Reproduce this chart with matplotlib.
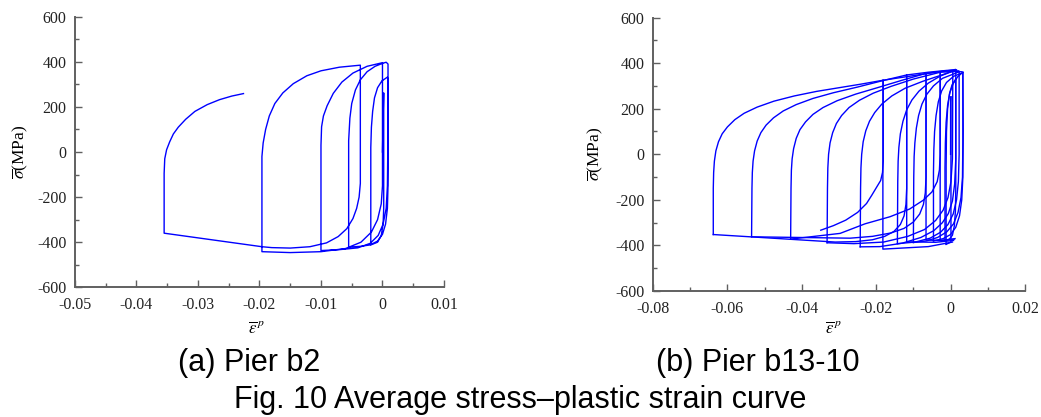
import matplotlib
matplotlib.use("Agg")
import matplotlib.pyplot as plt
from matplotlib.ticker import MultipleLocator

plt.rcParams['font.family'] = 'Liberation Serif'
plt.rcParams['mathtext.fontset'] = 'stix'
plt.rcParams['axes.unicode_minus'] = False

BLUE = '#0000ff'

# ---------------- (a) Pier b2 : one continuous history ----------------
b2_strain = [0.0000, 0.0001, 0.0002, 0.0002, 0.0001, -0.0002, -0.0008, -0.0019,
             -0.0019, -0.0019, -0.0018, -0.0016, -0.0013, -0.0008, -0.0001, 0.0008,
             0.0009, 0.0009, 0.0008, 0.0005, 0.0000, -0.0008, -0.0020, -0.0035, -0.0055,
             -0.0055, -0.0055, -0.0053, -0.0050, -0.0044, -0.0036, -0.0025, -0.0012, 0.0000, 0.0006, 0.0009,
             0.0009, 0.0008, 0.0006, 0.0001, -0.0007, -0.0020, -0.0040, -0.0070, -0.0100,
             -0.0100, -0.0099, -0.0096, -0.0090, -0.0080, -0.0066, -0.0048, -0.0025, 0.0000,
             0.0000, -0.0002, -0.0008, -0.0018, -0.0035, -0.0060, -0.0100, -0.0150, -0.0196,
             -0.0196, -0.0194, -0.0190, -0.0184, -0.0175, -0.0162, -0.0145, -0.0123, -0.0100, -0.0070, -0.0036,
             -0.0036, -0.0038, -0.0042, -0.0048, -0.0058, -0.0072, -0.0091, -0.0118, -0.0150, -0.0180, -0.0196,
             -0.0355, -0.0355, -0.0354, -0.0351, -0.0346, -0.0340, -0.0332, -0.0320, -0.0305, -0.0285, -0.0265,
             -0.0245, -0.0226]
b2_stress = [0, 150, 262, -250, -320, -370, -400, -412,
             -100, 20, 110, 180, 240, 285, 315, 332,
             320, -150, -250, -320, -365, -395, -412, -418, -422,
             -50, 50, 150, 215, 275, 320, 356, 380, 393, 398, 390,
             100, -150, -250, -320, -370, -405, -425, -433, -437,
             30, 112, 160, 205, 260, 310, 350, 380, 396,
             -150, -230, -300, -355, -400, -428, -442, -446, -442,
             -20, 40, 100, 160, 215, 262, 303, 338, 360, 376, 385,
             -139, -200, -250, -295, -340, -375, -403, -420, -426, -424, -420,
             -360, -95, -30, 10, 45, 80, 110, 145, 180, 210, 232,
             248, 259]

# ---------------- (b) Pier b13-10 ----------------
# tension branches: reload at the minimum strain, hardening to the right
b13_tension_x = [
    [0.0000, 0.0000, 0.0001],
    [-0.0012, -0.0012, -0.0011, -0.0008, -0.0003, 0.0004, 0.0014],
    [-0.0015, -0.0015, -0.0014, -0.0012, -0.0008, -0.0002, 0.0007, 0.0019, 0.0033],
    [-0.0046, -0.0046, -0.0045, -0.0043, -0.0039, -0.0033, -0.0024, -0.0011, 0.0008, 0.0033],
    [-0.0100, -0.0099, -0.0098, -0.0096, -0.0092, -0.0086, -0.0077, -0.0064, -0.0046, -0.0022, 0.0023],
    [-0.0143, -0.0142, -0.0141, -0.0139, -0.0135, -0.0128, -0.0118, -0.0104, -0.0085, -0.0060, -0.0028, 0.0014],
    [-0.0243, -0.0242, -0.0241, -0.0239, -0.0235, -0.0228, -0.0218, -0.0204, -0.0185, -0.0158, -0.0122,
     -0.0075, -0.0020, 0.0006],
    [-0.0332, -0.0331, -0.0330, -0.0328, -0.0324, -0.0317, -0.0307, -0.0293, -0.0273, -0.0245, -0.0208,
     -0.0160, -0.0100, -0.0028, 0.0010, 0.0030],
    [-0.0430, -0.0429, -0.0428, -0.0426, -0.0422, -0.0415, -0.0405, -0.0390, -0.0370, -0.0343, -0.0305,
     -0.0255, -0.0195, -0.0130, -0.0066, -0.0020, 0.0022],
    [-0.0535, -0.0534, -0.0533, -0.0531, -0.0527, -0.0520, -0.0510, -0.0496, -0.0476, -0.0450, -0.0415,
     -0.0370, -0.0315, -0.0250, -0.0185, -0.0118, -0.0060, -0.0010, 0.0016],
    [-0.0638, -0.0638, -0.0637, -0.0635, -0.0631, -0.0624, -0.0614, -0.0600, -0.0580, -0.0555, -0.0520,
     -0.0475, -0.0420, -0.0360, -0.0300, -0.0240, -0.0181, -0.0120, -0.0060, -0.0010, 0.0013],
]
b13_tension_y = [
    [0, 230, 252],
    [-395, -50, 100, 200, 265, 305, 330],
    [-378, -60, 50, 140, 215, 270, 310, 340, 360],
    [-380, -80, 20, 100, 170, 230, 278, 315, 342, 358],
    [-387, -100, -10, 50, 115, 170, 220, 263, 300, 333, 362],
    [-392, -120, -30, 30, 90, 145, 195, 238, 277, 312, 343, 370],
    [-406, -150, -60, 0, 55, 103, 145, 183, 220, 256, 290, 320, 350, 365],
    [-388, -150, -60, 0, 50, 95, 135, 170, 205, 237, 268, 298, 330, 360, 363, 362],
    [-372, -150, -70, -20, 25, 70, 108, 142, 175, 205, 235, 264, 293, 325, 355, 365, 366],
    [-362, -150, -80, -30, 15, 58, 95, 128, 160, 190, 218, 245, 270, 295, 322, 348, 360, 368, 370],
    [-352, -150, -80, -30, 15, 55, 90, 120, 152, 180, 207, 233, 256, 276, 292, 308, 325, 340, 355, 366, 372],
]
# compression branches: unloading at the maximum strain, softening to the left
b13_comp_x = [
    [0.0001, 0.0001, -0.0012],
    [0.0014, 0.0014, 0.0013, 0.0010, 0.0005, -0.0003, -0.0015],
    [0.0033, 0.0034, 0.0033, 0.0030, 0.0024, 0.0014, 0.0000, -0.0020, -0.0046],
    [0.0033, 0.0033, 0.0032, 0.0028, 0.0020, 0.0008, -0.0010, -0.0035, -0.0065, -0.0100],
    [0.0023, 0.0023, 0.0021, 0.0016, 0.0007, -0.0007, -0.0027, -0.0055, -0.0095, -0.0143],
    [0.0014, 0.0014, 0.0011, 0.0005, -0.0006, -0.0022, -0.0045, -0.0080, -0.0130, -0.0190, -0.0243],
    [0.0006, 0.0005, 0.0001, -0.0007, -0.0020, -0.0040, -0.0070, -0.0115, -0.0180, -0.0260, -0.0332],
    [-0.0028, -0.0028, -0.0030, -0.0036, -0.0050, -0.0073, -0.0110, -0.0163, -0.0230, -0.0297, -0.0430],
    [-0.0066, -0.0066, -0.0068, -0.0073, -0.0083, -0.0100, -0.0125, -0.0160, -0.0210, -0.0270, -0.0535],
    [-0.0118, -0.0118, -0.0120, -0.0125, -0.0135, -0.0152, -0.0177, -0.0210, -0.0255, -0.0310, -0.0638],
    [-0.0181, -0.0181, -0.0183, -0.0188, -0.0198, -0.0212, -0.0226, -0.0250, -0.0282, -0.0315, -0.0349],
]
b13_comp_y = [
    [252, -385, -395],
    [330, -150, -250, -315, -355, -372, -378],
    [360, 100, -100, -200, -270, -320, -352, -370, -380],
    [358, 50, -100, -190, -255, -305, -340, -365, -380, -387],
    [362, 0, -120, -200, -262, -308, -342, -368, -385, -392],
    [370, -20, -130, -205, -260, -300, -335, -365, -390, -405, -406],
    [365, -20, -120, -190, -245, -290, -330, -360, -385, -392, -388],
    [360, 0, -69, -120, -165, -201, -240, -274, -305, -347, -372],
    [355, -100, -170, -220, -262, -297, -325, -345, -360, -368, -362],
    [348, -150, -220, -270, -308, -338, -360, -375, -383, -385, -352],
    [325, -30, -80, -115, -142, -180, -216, -255, -289, -313, -333],
]
# straight elastic lines running the full height, with their base lines
b13_vert_x = [
    [0.0005, -0.0060, -0.0182, -0.0182],
    [0.0008, -0.0040, -0.0118, -0.0118],
    [0.0010, -0.0030, -0.0066, -0.0066],
    [0.0012, -0.0010, -0.0028, -0.0028],
]
b13_vert_y = [
    [-385, -405, -416, 325],
    [-378, -386, -384, 348],
    [-372, -378, -376, 355],
    [-370, -376, -378, 360],
]


def style_axes(ax, xlim, xmajor, xminor, ylab_x, xlab_y, xlab_x):
    ax.set_xlim(*xlim)
    ax.set_ylim(-600, 600)
    ax.xaxis.set_major_locator(MultipleLocator(xmajor))
    ax.xaxis.set_minor_locator(MultipleLocator(xminor))
    ax.yaxis.set_major_locator(MultipleLocator(200))
    ax.yaxis.set_minor_locator(MultipleLocator(100))
    for s in ('top', 'right'):
        ax.spines[s].set_visible(False)
    for s in ('left', 'bottom'):
        ax.spines[s].set_color('#606060')
        ax.spines[s].set_linewidth(1.4)
    ax.tick_params(which='both', direction='in', colors='#606060',
                   labelcolor='#222222', labelsize=11.5, width=1.0)
    ax.tick_params(which='major', length=5)
    ax.tick_params(which='minor', length=3)
    ax.tick_params(axis='x', which='major', pad=7)
    ax.tick_params(axis='y', which='major', pad=6)
    ax.xaxis.set_major_formatter(plt.FuncFormatter(lambda v, p: '0' if abs(v) < 1e-9 else '%g' % v))
    ax.set_ylabel(r'$\overline{\sigma}$(MPa)', fontsize=12.5)
    ax.set_xlabel(r'$\overline{\varepsilon}^{\,p}$', fontsize=12)
    ax.yaxis.set_label_coords(ylab_x, 0.5)
    ax.xaxis.set_label_coords(xlab_x, xlab_y)


fig = plt.figure(figsize=(10.41, 4.17), dpi=100)
ax1 = fig.add_axes([0.0720, 0.311, 0.3545, 0.649])
ax2 = fig.add_axes([0.6273, 0.302, 0.3573, 0.656])

ax1.plot(b2_strain, b2_stress, color=BLUE, lw=1.0)
style_axes(ax1, (-0.05, 0.01), 0.01, 0.005, -0.122, -0.125, 0.492)

for xs, ys in zip(b13_tension_x, b13_tension_y):
    ax2.plot(xs, ys, color=BLUE, lw=1.0)
for xs, ys in zip(b13_comp_x, b13_comp_y):
    ax2.plot(xs, ys, color=BLUE, lw=1.0)
for xs, ys in zip(b13_vert_x, b13_vert_y):
    ax2.plot(xs, ys, color=BLUE, lw=1.0)
style_axes(ax2, (-0.08, 0.02), 0.02, 0.01, -0.128, -0.110, 0.485)

cap = dict(family='Liberation Sans', fontsize=22, ha='center', va='center')
fig.text(249 / 1041, 1 - 363 / 417, '(a) Pier b2', **cap)
fig.text(758 / 1041, 1 - 363 / 417, '(b) Pier b13-10', **cap)
fig.text(520 / 1041, 1 - 400 / 417, 'Fig. 10 Average stress\u2013plastic strain curve', **cap)

fig.savefig('out.png', dpi=100)
